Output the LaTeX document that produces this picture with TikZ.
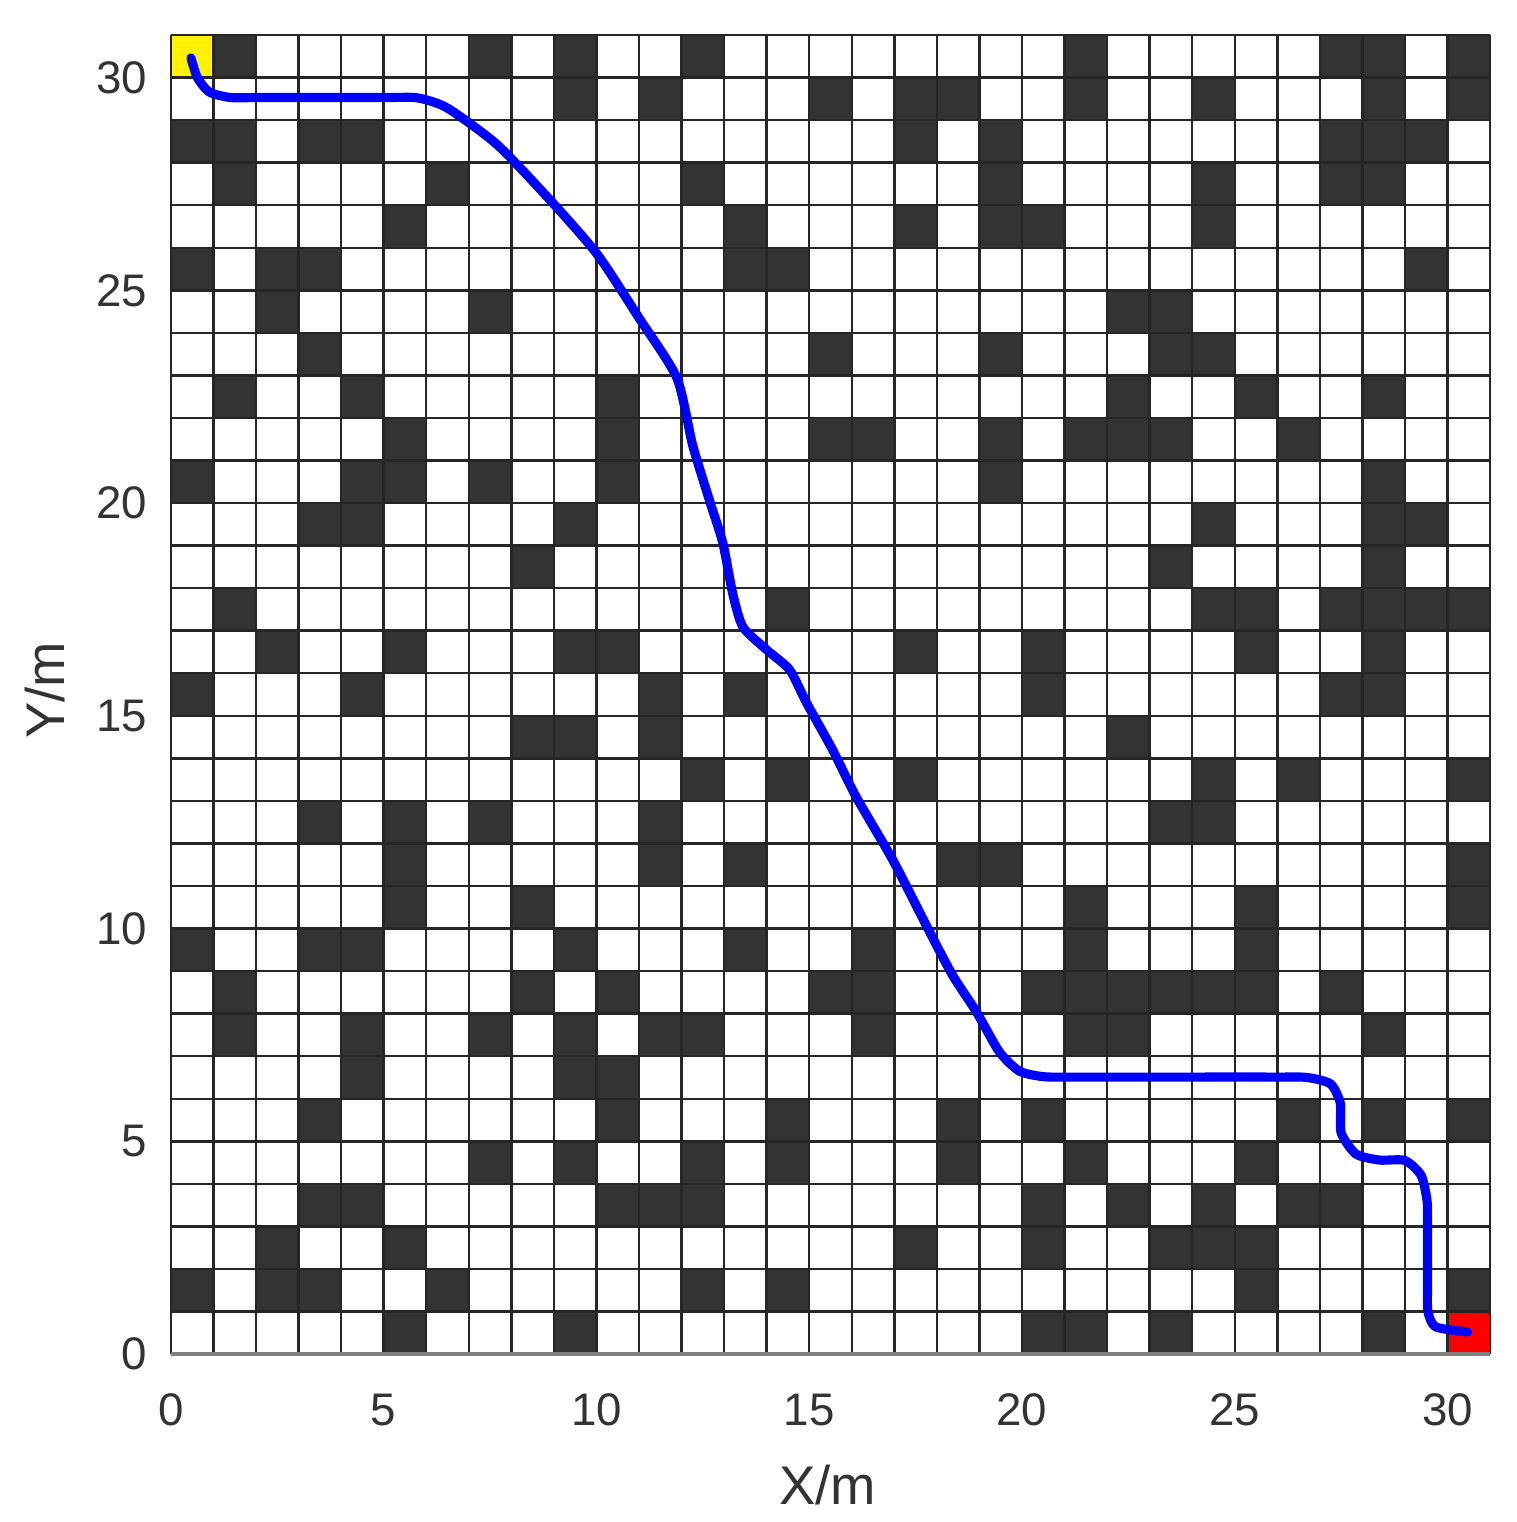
\documentclass[tikz,border=0pt]{standalone}
\usepackage{fontspec}
\setmainfont{Liberation Sans}
\definecolor{obscol}{HTML}{333333}
\definecolor{txtcol}{HTML}{333333}
\begin{document}
\begin{tikzpicture}[x=0.8514cm,y=0.8514cm,
  obs/.style={fill=obscol},
  gridline/.style={draw=black!85,line width=1.4pt},
  ticklab/.style={text=txtcol,font=\fontsize{26}{30}\selectfont,inner sep=0pt},
  axlab/.style={text=txtcol,font=\fontsize{31}{36}\selectfont,inner sep=0pt},
  pathline/.style={draw=blue,line width=5.2pt,line cap=round,line join=round}]
\useasboundingbox (-4.017,-3.946) rectangle (31.611,31.822);
\fill[white] (-4.017,-3.946) rectangle (31.611,31.822);
% obstacles
\foreach \yy/\xs in {
 30/{1,7,9,12,21,27,28,30},
 29/{9,11,15,17,18,21,24,28,30},
 28/{0,1,3,4,17,19,27,28,29},
 27/{1,6,12,19,24,27,28},
 26/{5,13,17,19,20,24},
 25/{0,2,3,13,14,29},
 24/{2,7,22,23},
 23/{3,15,19,23,24},
 22/{1,4,10,22,25,28},
 21/{5,10,15,16,19,21,22,23,26},
 20/{0,4,5,7,10,19,28},
 19/{3,4,9,24,28,29},
 18/{8,23,28},
 17/{1,14,24,25,27,28,29,30},
 16/{2,5,9,10,17,20,25,28},
 15/{0,4,11,13,20,27,28},
 14/{8,9,11,22},
 13/{12,14,17,24,26,30},
 12/{3,5,7,11,23,24},
 11/{5,11,13,18,19,30},
 10/{5,8,21,25,30},
 9/{0,3,4,9,13,16,21,25},
 8/{1,8,10,15,16,20,21,22,23,24,25,27},
 7/{1,4,7,9,11,12,16,21,22,28},
 6/{4,9,10},
 5/{3,10,14,18,20,26,28,30},
 4/{7,9,12,14,18,21,25},
 3/{3,4,10,11,12,20,22,24,26,27},
 2/{2,5,17,20,23,24,25},
 1/{0,2,3,6,12,14,25,30},
 0/{5,9,20,21,23,28}}
{\foreach \xx in \xs {\fill[obs] (\xx,\yy) rectangle ++(1,1);}}
% start and goal
\fill[yellow] (0,30) rectangle (1,31);
\fill[red] (30,0) rectangle (31,1);
% grid
\foreach \i in {0,...,31} {
  \draw[gridline] (\i,0) -- (\i,31);
  \draw[gridline] (0,\i) -- (31,\i);
}
\draw[draw=black!50,line width=2pt] (0,0) -- (31,0);
% path
\draw[pathline] plot[smooth,tension=0.4] coordinates {
 (0.47,30.46) (0.62,30.0) (0.9,29.66) (1.4,29.53) (2.2,29.53) (5.0,29.53) (5.8,29.52) (6.5,29.28)
 (7.68,28.41) (9.02,27.0) (10.03,25.83) (11.0,24.35) (11.89,22.94)
 (12.26,21.36) (12.66,20.05) (12.97,19.06) (13.2,17.88) (13.44,17.09)
 (14.0,16.55) (14.54,16.08) (14.94,15.3) (15.55,14.2) (16.1,13.1)
 (16.97,11.6) (17.83,9.92) (18.37,8.9) (18.93,8.04) (19.47,7.1)
 (19.94,6.65) (20.5,6.52) (21.3,6.51) (25.9,6.51) (26.7,6.5) (27.25,6.35) (27.48,5.9) (27.5,5.2)
 (27.85,4.7) (28.4,4.56) (29.0,4.55) (29.38,4.2) (29.52,3.6) (29.53,3.0) (29.53,1.6) (29.54,1.0)
 (29.72,0.64) (30.47,0.52)};
% tick labels
\foreach \v in {0,5,...,30} {
  \node[ticklab] (xt\v) at (\v,-1.32) {\v};
  \node[ticklab,anchor=east] (yt\v) at (-0.55,\v) {\v};
}
\node[axlab] (xlab) at (15.43,-3.08) {X/m};
\node[axlab,rotate=90] (ylab) at (-2.96,15.6) {Y/m};
\end{tikzpicture}
\end{document}
